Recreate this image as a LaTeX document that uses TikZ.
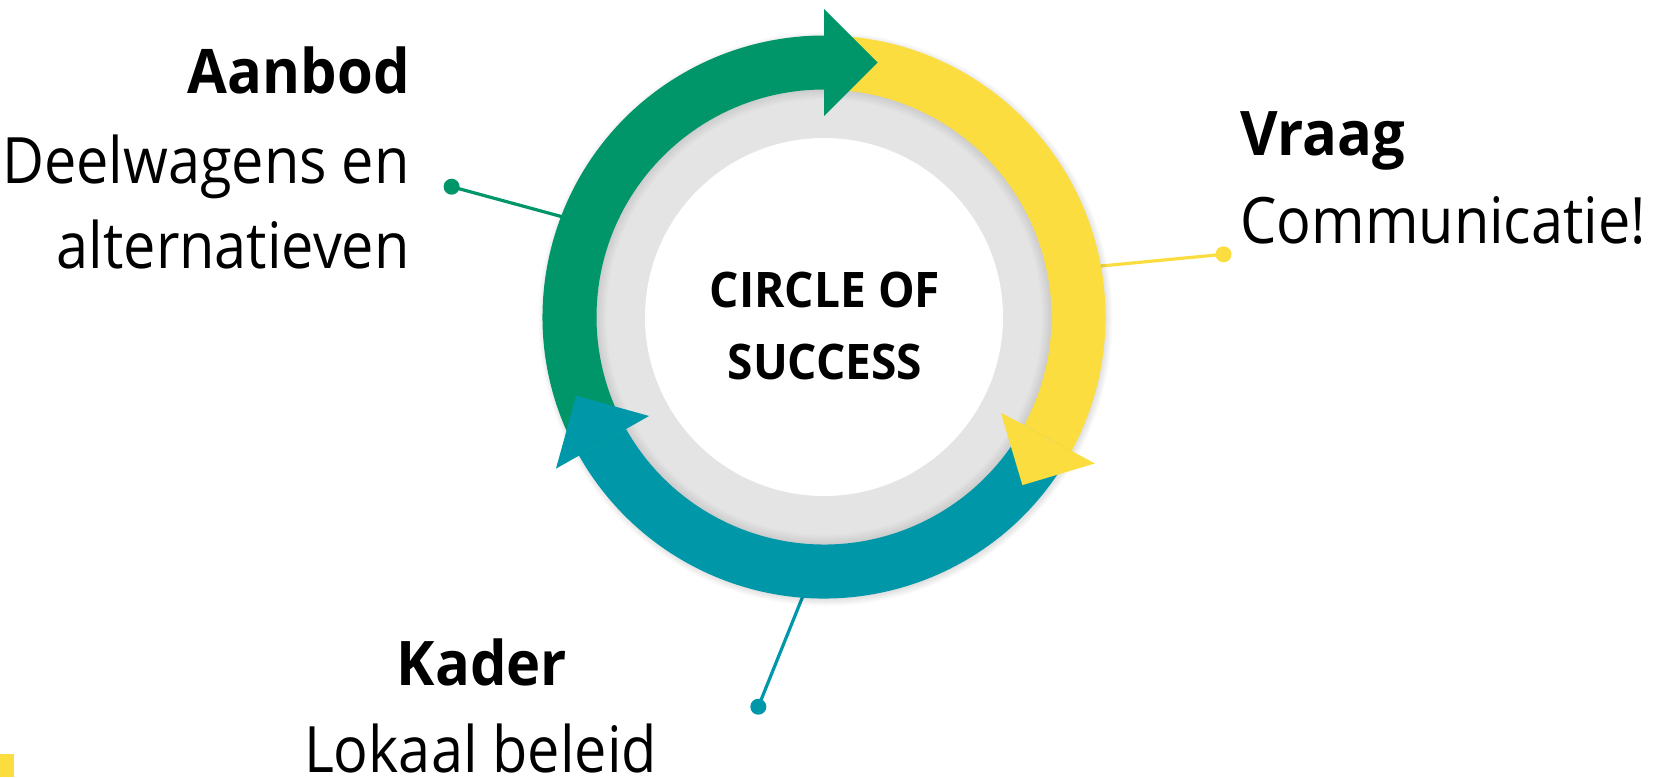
\documentclass[tikz,border=0pt]{standalone}
\usepackage{fontspec}
\setmainfont{Open Sans}[FakeStretch=0.90, BoldFeatures={FakeStretch=0.94}]
\usetikzlibrary{calc}
\definecolor{grn}{HTML}{00966A}
\definecolor{ylw}{HTML}{FBDD40}
\definecolor{tea}{HTML}{0098A8}
\definecolor{gry}{HTML}{E4E4E4}
\begin{document}
\begin{tikzpicture}[x=0.5pt,y=0.5pt,
  lbl/.style={inner sep=0pt, font=\fontsize{32}{38}\selectfont},
  ttl/.style={inner sep=0pt, font=\fontsize{30.75}{36}\selectfont\bfseries},
  ctr/.style={inner sep=0pt, font=\fontsize{24.5}{29}\selectfont\bfseries},
  dot/.style={circle, inner sep=0pt, minimum size=8pt},
  con/.style={line width=1.6pt}]
\useasboundingbox (0,0) rectangle (1657,-777);
\coordinate (c) at (824,-317);

% small yellow square
\fill[ylw] (0,-754) rectangle (14,-777);

% connectors with dots
\node[dot, fill=grn] (dg) at (451.6,-186.7) {};
\coordinate (eg) at ($(c)+(159:278)$);
\draw[con, grn] (dg.center) -- (eg);
\node[dot, fill=ylw] (dy) at (1223.5,-254.3) {};
\coordinate (ey) at ($(c)+(10.5:278)$);
\draw[con, ylw] (dy.center) -- (ey);
\node[dot, fill=tea] (dt) at (758.3,-706.7) {};
\coordinate (et) at ($(c)+(265.8:278)$);
\draw[con, tea] (dt.center) -- (et);

% soft outer shadow
\foreach \i in {1,...,8}
  \fill[black, opacity=0.014] ($(c)+(1.5,-2)$) circle (279+\i);
% gray band and white disc
\fill[gry] (c) circle (228);
\foreach \i in {1,...,8}
  \fill[black, opacity=0.012, even odd rule] (c) circle (228) (c) circle (228-1.3*\i);
\fill[white] (c) circle (179);

% arrow bodies
\fill[tea] ($(c)+(-28.4:281.5)$) arc[start angle=-28.4, end angle=-150.5, radius=281.5]
  -- ($(c)+(-150.5:227.5)$) arc[start angle=-150.5, end angle=-28.4, radius=227.5] -- cycle;
\fill[ylw] ($(c)+(90:281.5)$) arc[start angle=90, end angle=-28.4, radius=281.5]
  -- ($(c)+(-28.4:227.5)$) arc[start angle=-28.4, end angle=90, radius=227.5] -- cycle;
\fill[grn] ($(c)+(209.5:281.5)$) arc[start angle=209.5, end angle=90, radius=281.5]
  -- ($(c)+(90:227.5)$) arc[start angle=90, end angle=209.5, radius=227.5] -- cycle;

% arrow heads
\fill[tea] ($(c)+(209.5:201)$) -- ($(c)+(209.5:254.5)+(119.5:53.5)$) -- ($(c)+(209.5:308)$) -- cycle;
\fill[ylw] ($(c)+(-28.4:201)$) -- ($(c)+(-28.4:254.5)+(-118.4:53.5)$) -- ($(c)+(-28.4:308)$) -- cycle;
\fill[grn] ($(c)+(90:201)$) -- ($(c)+(90:254.5)+(0:53.5)$) -- ($(c)+(90:308)$) -- cycle;

% centre title
\node[ctr, anchor=base] (c1) at (825,-307) {CIRCLE OF};
\node[ctr, anchor=base] (c2) at (825,-379.3) {SUCCESS};

% labels
\node[ttl, anchor=base east] (aan) at (410,-93.3) {Aanbod};
\node[lbl, anchor=base east] (dw) at (410,-183.3) {Deelwagens en};
\node[lbl, anchor=base east] (alt) at (410,-268.3) {alternatieven};
\node[ttl, anchor=base west] (vr) at (1240,-155) {Vraag};
\node[lbl, anchor=base west] (com) at (1240,-243) {Communicatie!};
\node[ttl, anchor=base] (kad) at (482,-685) {Kader};
\node[lbl, anchor=base, text depth=0pt] (lok) at (480.5,-772) {Lokaal beleid};
\end{tikzpicture}
\end{document}
